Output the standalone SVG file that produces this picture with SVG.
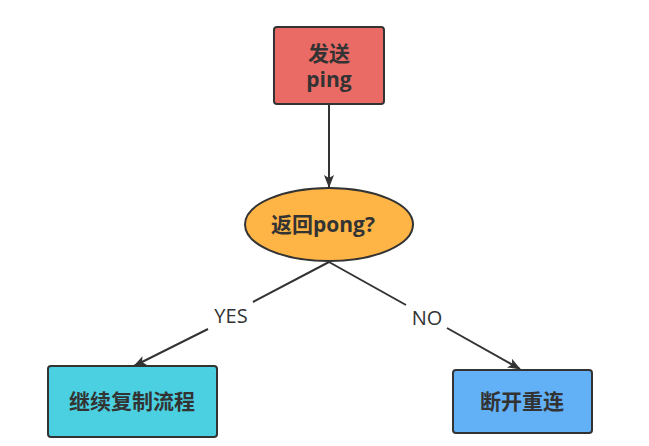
<svg xmlns="http://www.w3.org/2000/svg" width="649" height="446" viewBox="0 0 649 446">
<style>
.node{stroke:#333;stroke-width:2}
.t{font-family:"Open Sans","Noto Sans CJK SC",sans-serif;font-weight:bold;font-size:21px;fill:#333;text-anchor:middle}
.lbl{font-family:"Open Sans","Noto Sans CJK SC",sans-serif;font-size:20px;fill:#333;text-anchor:middle}
.edge{stroke:#333;stroke-width:2;fill:none}
</style>
<defs>
<marker id="arr" viewBox="0 0 13 10" refX="12" refY="5" markerWidth="13" markerHeight="10" markerUnits="userSpaceOnUse" orient="auto">
<path d="M0,0 L13,5 L0,10 L3,5 Z" fill="#333"/>
</marker>
</defs>
<rect width="649" height="446" fill="#fff"/>
<g id="connectors">
<line class="edge" x1="329" y1="105" x2="329" y2="187" marker-end="url(#arr)"/>
<polyline class="edge" points="329,262 253,302"/>
<polyline class="edge" points="208,329 134,366" marker-end="url(#arr)"/>
<polyline class="edge" points="329,262 406,305"/>
<polyline class="edge" points="447,328 520,369" marker-end="url(#arr)"/>
<text class="lbl" x="231" y="323">YES</text>
<text class="lbl" x="427" y="325">NO</text>
</g>
<g id="send">
<rect class="node" x="274" y="27" width="110" height="77" rx="3" fill="#EA6B66"/>
<text class="t" x="329" y="61">发送</text>
<text class="t" x="329" y="87">ping</text>
</g>
<g id="pong">
<ellipse class="node" cx="329" cy="224.5" rx="84" ry="36.5" fill="#FFB546"/>
<text class="t" x="323" y="232">返回pong?</text>
</g>
<g id="continue">
<rect class="node" x="48" y="366" width="169" height="71" rx="3" fill="#4AD0E0"/>
<text class="t" x="132" y="409">继续复制流程</text>
</g>
<g id="reconnect">
<rect class="node" x="453" y="370" width="139" height="63" rx="3" fill="#62B1F6"/>
<text class="t" x="522" y="409">断开重连</text>
</g>
</svg>
